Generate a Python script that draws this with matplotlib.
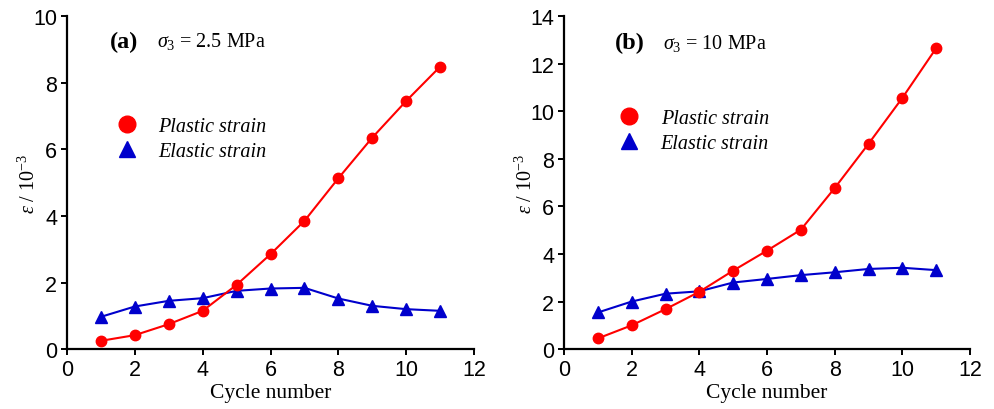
import matplotlib
matplotlib.use("Agg")
import matplotlib.pyplot as plt
from matplotlib.lines import Line2D

plt.rcParams['font.family'] = 'Liberation Serif'
plt.rcParams['mathtext.fontset'] = 'custom'
plt.rcParams['mathtext.rm'] = 'Liberation Serif'
plt.rcParams['mathtext.it'] = 'Liberation Serif:italic'
plt.rcParams['mathtext.bf'] = 'Liberation Serif:bold'
plt.rcParams['axes.unicode_minus'] = False

cycles = [1, 2, 3, 4, 5, 6, 7, 8, 9, 10, 11]

plasticA = [0.25, 0.42, 0.75, 1.15, 1.93, 2.85, 3.85, 5.13, 6.35, 7.45, 8.48]
elasticA = [0.97, 1.28, 1.45, 1.53, 1.75, 1.82, 1.84, 1.52, 1.30, 1.20, 1.15]

plasticB = [0.45, 1.00, 1.68, 2.41, 3.30, 4.14, 5.02, 6.77, 8.63, 10.56, 12.65]
elasticB = [1.54, 2.00, 2.33, 2.43, 2.80, 2.95, 3.11, 3.23, 3.37, 3.42, 3.32]

RED = '#ff0000'
BLUE = '#0000cc'
SANS = 'Liberation Sans'


def drawPanel(ax, plastic, elastic, ymax, ystep, tag, condition, legendPos, tagPos, condOffset):
    ax.plot(cycles, plastic, color=RED, lw=1.5, marker='o', ms=7.5, zorder=3)
    ax.plot(cycles, elastic, color=BLUE, lw=1.5, marker='^', ms=8, zorder=2)
    ax.set_xlim(0, 12)
    ax.set_ylim(0, ymax)
    ax.set_xticks(range(0, 13, 2))
    ax.set_yticks(range(0, ymax + 1, ystep))
    for s in ['top', 'right']:
        ax.spines[s].set_visible(False)
    for s in ['left', 'bottom']:
        ax.spines[s].set_linewidth(1.6)
    ax.tick_params(direction='out', length=4, width=1.4, labelsize=15.5, pad=3,
                   labelfontfamily=SANS)
    ax.set_xlabel('Cycle number', fontsize=15.5, labelpad=2)
    ax.set_ylabel(r'$\varepsilon$ / 10$^{-3}$', fontsize=14.5, labelpad=-5)

    # legend shows markers only
    handles = [Line2D([], [], ls='none', marker='o', ms=12, color=RED),
               Line2D([], [], ls='none', marker='^', ms=12, color=BLUE)]
    ax.legend(handles, ['Plastic strain', 'Elastic strain'], loc='center left',
              bbox_to_anchor=legendPos, frameon=False, handletextpad=0.55,
              labelspacing=0.3, prop={'style': 'italic', 'size': 14.5})

    ax.text(tagPos[0], tagPos[1], tag, transform=ax.transAxes,
            fontweight='bold', fontsize=17.5, va='center')
    ax.text(tagPos[0] + condOffset, tagPos[1], condition, transform=ax.transAxes,
            fontsize=14.5, va='center')


fig = plt.figure(figsize=(9.94, 4.10), dpi=100)
axA = fig.add_axes([0.0674, 0.146, 0.4095, 0.8125])
axB = fig.add_axes([0.5674, 0.146, 0.4085, 0.8125])

drawPanel(axA, plasticA, elasticA, 10, 2, '(a)', r'$\sigma_3$ = 2.5 MPa',
          (0.054, 0.63), (0.105, 0.925), 0.115)
drawPanel(axB, plasticB, elasticB, 14, 2, '(b)', r'$\sigma_3$ = 10 MPa',
          (0.067, 0.655), (0.125, 0.92), 0.12)

fig.savefig('out.png', dpi=100)
